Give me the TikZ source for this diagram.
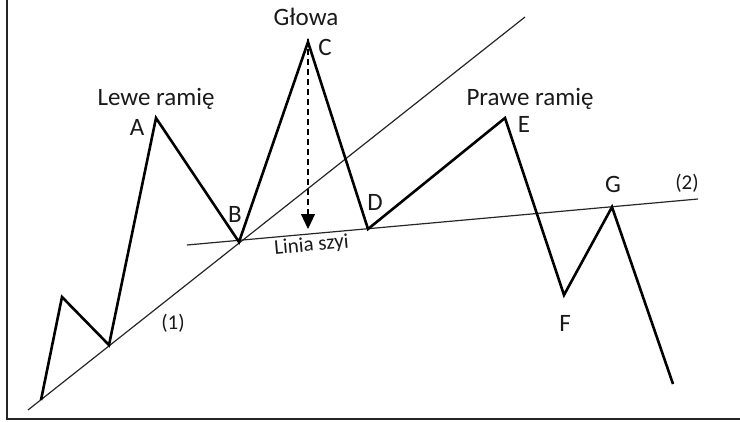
\documentclass[tikz,border=0pt]{standalone}
\usepackage{fontspec}
\setmainfont{Carlito}
\usetikzlibrary{arrows.meta}
\begin{document}
\begin{tikzpicture}[x=1pt,y=-1pt,
  axisline/.style={draw=black!85,line width=1.4pt},
  thinline/.style={draw=black!85,line width=1.2pt},
  priceline/.style={draw=black,line width=2.6pt,line join=miter,line cap=butt},
  biglabel/.style={anchor=base,inner sep=0pt,text=black!90,font=\fontsize{25}{29}\selectfont},
  smalllabel/.style={anchor=base,inner sep=0pt,text=black!90,font=\fontsize{21}{25}\selectfont},
  dasharrow/.style={draw=black,line width=1.2pt,dash pattern=on 6pt off 4pt,-{Triangle[length=15pt,width=14pt]}}]
\useasboundingbox (0,0) rectangle (740,421);
% axes
\coordinate (axtop) at (7,0);
\coordinate (axo) at (7,419);
\coordinate (axright) at (740,419);
\draw[axisline] (axtop) -- (axo) -- (axright);
% trend lines
\coordinate (t1) at (28,410);
\coordinate (t2) at (525,17);
\coordinate (n1) at (187,245);
\coordinate (n2) at (698,199);
\draw[thinline] (t1) -- (t2);
\draw[thinline] (n1) -- (n2);
% price path
\coordinate (p0) at (41,400);
\coordinate (p1) at (62,297);
\coordinate (p2) at (109,345);
\coordinate (A) at (156,118);
\coordinate (B) at (239,242);
\coordinate (C) at (308,42);
\coordinate (D) at (368,229);
\coordinate (E) at (505,118);
\coordinate (F) at (564,295);
\coordinate (G) at (612,207);
\coordinate (p10) at (673,384);
\draw[priceline] (p0) -- (p1) -- (p2) -- (A) -- (B) -- (C) -- (D) -- (E) -- (F) -- (G) -- (p10);
% dashed arrow
\coordinate (arrtip) at (308,229);
\draw[dasharrow] ([yshift=3pt]C) -- (arrtip);
% labels
\node[biglabel] (lL) at (156,105) {Lewe ramię};
\node[biglabel] (lG) at (306,25) {Głowa};
\node[biglabel] (lP) at (530,105) {Prawe ramię};
\node[biglabel] (lA) at (137,135) {A};
\node[biglabel] (lB) at (235,222) {B};
\node[biglabel] (lC) at (325,55) {C};
\node[biglabel] (lD) at (375,210) {D};
\node[biglabel] (lE) at (524,132) {E};
\node[biglabel] (lF) at (565,331) {F};
\node[biglabel] (lGg) at (613,192) {G};
\node[smalllabel] (l1) at (173,329) {(1)};
\node[smalllabel] (l2) at (687,189) {(2)};
\node[smalllabel,rotate=5] (lN) at (312,251) {Linia szyi};
\end{tikzpicture}
\end{document}
